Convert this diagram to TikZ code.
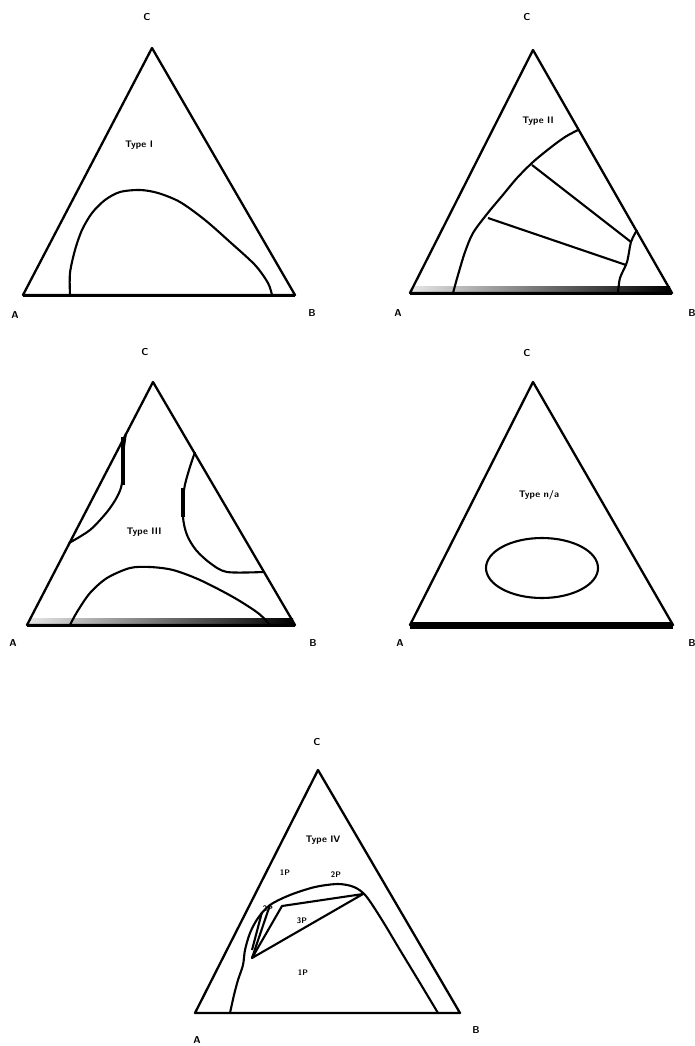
\documentclass[tikz,border=0pt]{standalone}
\usetikzlibrary{calc}
\begin{document}
\begin{tikzpicture}[x=1pt,y=-1pt,
  tri/.style={line width=2.3pt,line join=round},
  crv/.style={line width=2.1pt,line join=round},
  lab/.style={font=\sffamily\bfseries\fontsize{10}{10}\selectfont,inner sep=0pt},
  typ/.style={font=\sffamily\bfseries\fontsize{9.5}{9.5}\selectfont,inner sep=0pt},
  rl/.style={font=\sffamily\bfseries\fontsize{8}{8}\selectfont,inner sep=0pt}]
\useasboundingbox[fill=white] (0,0) rectangle (694,1046);

% ---------- Panel 1 ----------
\coordinate (A1) at (23,295); \coordinate (B1) at (295,295); \coordinate (C1) at (152,48);
\draw[tri] (A1) -- (B1) -- (C1) -- cycle;
\draw[line width=3pt] (A1) -- (B1);
\node[lab] (lC1) at (147,17) {C};
\node[lab] (lA1) at (15,315) {A};
\node[lab] (lB1) at (312,313) {B};
\node[typ] (t1) at (139,145) {Type I};
\draw[crv] plot[smooth] coordinates {(70,295) (70,273) (75,250) (82,230) (92,213) (105,200) (120,192) (140,190) (158,193) (180,202) (205,220) (230,242) (255,265) (268,283) (272,295)};

% ---------- Panel 2 ----------
\coordinate (A2) at (410,293); \coordinate (B2) at (672,293); \coordinate (C2) at (533,50);
\shade[left color=gray!20, middle color=gray!45, right color=black] (412,286) rectangle (670,292);
\draw[tri] (A2) -- (B2) -- (C2) -- cycle;
\draw[line width=3pt] (A2) -- (B2);
\node[lab] (lC2) at (527,17) {C};
\node[lab] (lA2) at (398,313) {A};
\node[lab] (lB2) at (692,313) {B};
\node[typ] (t2) at (538,121) {Type II};
\draw[crv] plot[smooth] coordinates {(453,293) (458,275) (465,252) (473,233) (487,214) (502,196) (517,178) (533,162) (550,148) (565,137) (578,130)};
\draw[crv] plot[smooth] coordinates {(637,230) (631,242) (627,262) (620,278) (618,293)};
\coordinate (p2a) at (532,165); \coordinate (q2a) at (631,242);
\coordinate (p2b) at (488,218); \coordinate (q2b) at (626,265);
\draw[crv] (p2a) -- (q2a);
\draw[crv] (p2b) -- (q2b);

% ---------- Panel 3 ----------
\coordinate (A3) at (27,625); \coordinate (B3) at (295,625); \coordinate (C3) at (153,382);
\shade[left color=gray!20, middle color=gray!30, right color=black] (29,618) rectangle (293,624);
\draw[tri] (A3) -- (B3) -- (C3) -- cycle;
\draw[line width=3pt] (A3) -- (B3);
\node[lab] (lC3) at (145,352) {C};
\node[lab] (lA3) at (13,643) {A};
\node[lab] (lB3) at (313,643) {B};
\node[typ] (t3) at (144,532) {Type III};
\draw[crv] plot[smooth] coordinates {(126,433) (123,455) (122,483) (117,497) (107,512) (90,530) (69,543)};
\draw[line width=3.5pt] (123,437) -- (123,485);
\draw[crv] plot[smooth] coordinates {(195,452) (189,470) (184,490) (183,517) (187,535) (196,550) (210,563) (227,572) (263,572)};
\draw[line width=3.2pt] (183,488) -- (183,517);
\draw[crv] plot[smooth] coordinates {(70,625) (77,612) (90,593) (107,578) (130,568) (150,567) (173,570) (200,580) (233,597) (258,613) (270,625)};

% ---------- Panel 4 ----------
\coordinate (A4) at (410,625); \coordinate (B4) at (673,625); \coordinate (C4) at (533,382);
\draw[tri] (A4) -- (B4) -- (C4) -- cycle;
\draw[line width=7pt] (A4) -- (B4);
\node[lab] (lC4) at (527,353) {C};
\node[lab] (lA4) at (400,643) {A};
\node[lab] (lB4) at (692,643) {B};
\node[typ] (t4) at (539,495) {Type n/a};
\draw[crv] (542,568) ellipse [x radius=56, y radius=30];

% ---------- Panel 5 ----------
\coordinate (A5) at (195,1013); \coordinate (B5) at (460,1013); \coordinate (C5) at (318,770);
\draw[tri] (A5) -- (B5) -- (C5) -- cycle;
\node[lab] (lC5) at (317,742) {C};
\node[lab] (lA5) at (197,1040) {A};
\node[lab] (lB5) at (476,1030) {B};
\node[typ] (t5) at (323,840) {Type IV};
\draw[crv] plot[smooth] coordinates {(230,1013) (234,995) (238,980) (243,965) (245,950) (250,933) (258,918) (270,905) (290,895) (315,887) (338,884) (354,887) (366,896) (382,920) (400,950) (420,983) (438,1013)};
\coordinate (L5) at (252,958); \coordinate (M5) at (282,906); \coordinate (R5) at (363,894);
\draw[crv] (L5) -- (M5) -- (R5) -- cycle;
\draw[crv] (L5) -- (270,905);
\draw[crv] (252,950) -- (262,912);
\node[rl] (r1) at (285,873) {1P};
\node[rl] (r2) at (336,875) {2P};
\node[rl] (r3) at (268,909) {2P};
\node[rl] (r4) at (302,921) {3P};
\node[rl] (r5) at (303,973) {1P};
\end{tikzpicture}
\end{document}
